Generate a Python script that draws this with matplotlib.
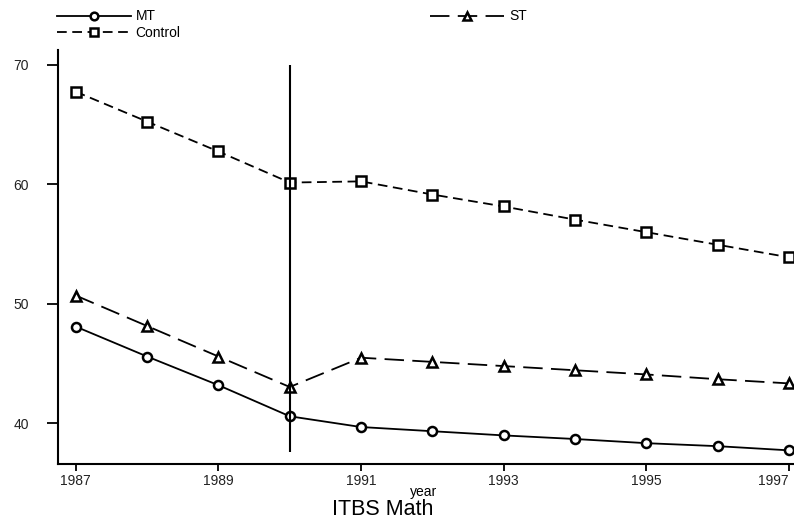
import numpy as np
import matplotlib
matplotlib.use("Agg")
import matplotlib.pyplot as plt

plt.rcParams['font.family'] = ['Liberation Sans', 'DejaVu Sans']
plt.rcParams['lines.scale_dashes'] = False

# data
years = [1987, 1988, 1989, 1990, 1991, 1992, 1993, 1994, 1995, 1996, 1997]
mt = [48.1, 45.6, 43.2, 40.6, 39.7, 39.35, 39.0, 38.7, 38.35, 38.1, 37.75]
st = [50.7, 48.15, 45.6, 43.05, 45.5, 45.15, 44.8, 44.45, 44.1, 43.7, 43.35]
control = [67.75, 65.25, 62.75, 60.15, 60.25, 59.15, 58.15, 57.05, 56.0, 54.95, 53.9]

xticks = [1987, 1989, 1991, 1993, 1995, 1997]
yticks = [40, 50, 60, 70]
cut_year = 1990
cut_range = (37.65, 70)

fig = plt.figure(figsize=(7.94, 5.25), dpi=100)
ax = fig.add_axes([0.073, 0.116, 0.927, 0.789])

mk = dict(markerfacecolor='white', markeredgecolor='black', markeredgewidth=1.8, markersize=6.5)
ax.plot(years, mt, color='black', lw=1.3, marker='o', label='MT', **mk)
ax.plot(years, control, color='black', lw=1.3, marker='s', dashes=(7, 4), label='Control', **mk)
ax.plot(years, st, color='black', lw=1.3, marker='^', dashes=(14, 6), label='ST', **mk)

ax.vlines(cut_year, cut_range[0], cut_range[1], color='black', lw=1.5)

ax.set_xlim(1986.75, 1997.07)
ax.set_ylim(36.6, 71.25)
ax.set_xticks(xticks)
ax.set_yticks(yticks)
ax.spines['top'].set_visible(False)
ax.spines['right'].set_visible(False)
ax.spines['left'].set_linewidth(1.5)
ax.spines['bottom'].set_linewidth(1.5)
ax.tick_params(axis='y', length=8, width=1.3, pad=13, labelsize=10, labelcolor='#222222')
ax.tick_params(axis='x', length=5, width=1.3, pad=2, labelsize=10, labelcolor='#222222')
ax.get_xticklabels()[-1].set_horizontalalignment('right')

fig.text(437 / 794, 1 - 496 / 525, 'year', ha='right', va='baseline', fontsize=10)
fig.text(383 / 794, 1 - 515 / 525, 'ITBS Math', ha='center', va='baseline', fontsize=15.5)

fig.legend(loc='upper left', bbox_to_anchor=(0.0718, 0.982), ncol=2, frameon=False,
           fontsize=10, handlelength=5.3, handletextpad=0.35, columnspacing=18.0,
           labelspacing=0.2, borderpad=0, borderaxespad=0, markerscale=0.85)

fig.savefig('out.png', dpi=100)
